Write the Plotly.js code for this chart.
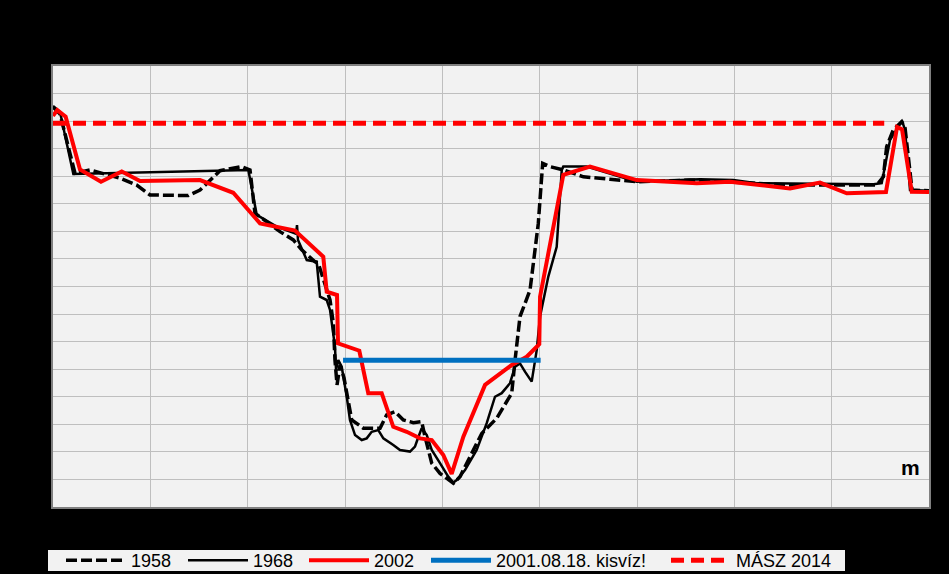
<!DOCTYPE html>
<html>
<head>
<meta charset="utf-8">
<script src="https://cdn.plot.ly/plotly-3.0.1.min.js"></script>
<style>html,body{margin:0;padding:0;background:#000;}#chart{width:949px;height:574px;}</style>
</head>
<body>
<div id="chart"></div>
<script>
// Distance across the section (m) and relative bed elevation (m)
const x1958 = [0,7.2,22.6,38.0,68.8,86.0,99.7,139.0,151.0,171.6,193.9,202.4,207.5,233.2,246.9,255.5,269.2,272.6,284.6,288.0,289.7,291.8,294.9,299.0,306.9,318.8,336.0,342.8,351.4,359.9,370.2,378.8,382.2,389.1,397.6,411.3,418.2,431.8,440.5,455.9,471.3,474.7,479.8,490.1,493.5,498.6,503.1,510.6,524.3,544.9,572.3,599.7,654.5,757.2,846.3,853.1,856.5,863.3,872.0,875.4,882.6,900];
const y1958 = [14.51,14.26,12.11,12.23,11.93,11.68,11.32,11.30,11.50,12.20,12.35,12.23,10.66,9.99,9.69,9.33,8.90,8.84,7.51,6.67,5.33,4.43,5.15,4.68,3.16,2.86,2.86,3.34,3.46,3.16,3.06,3.10,2.55,1.59,1.22,0.86,1.10,2.07,2.67,3.22,4.13,5.33,6.91,7.87,8.84,10.29,12.47,12.35,12.23,11.98,11.89,11.80,11.86,11.68,11.68,11.98,13.07,13.68,13.98,13.75,11.50,11.47];

const x1968 = [0,7.2,20.9,200.7,209.3,229.8,249.7,250.7,251.7,260.7,270.9,274.3,281.2,284.6,289.7,290.8,293.1,296.6,301.8,305.1,310.3,317.2,322.3,327.4,334.2,339.4,349.6,356.5,366.8,371.9,374.3,378.8,384.0,389.1,397.6,406.1,411.3,414.8,423.3,435.3,445.6,454.1,461.0,469.5,474.7,479.8,484.9,491.8,497.0,500.4,508.9,514.0,517.5,522.7,524.3,548.3,599.7,664.7,698.9,723.0,842.8,851.4,860.0,872.3,875.4,880.5,900];
const y1968 = [14.55,14.33,12.08,12.23,10.60,10.17,9.91,10.23,9.69,8.96,8.90,7.63,7.51,7.15,5.82,4.97,5.33,5.09,4.00,3.16,2.61,2.43,2.49,2.73,2.79,2.49,2.25,2.07,2.01,2.19,2.43,2.86,2.61,2.07,1.59,1.10,0.89,0.98,1.34,2.07,3.04,4.00,4.13,4.49,5.09,5.21,4.91,4.55,5.70,6.91,8.36,8.96,9.44,12.23,12.35,12.35,11.80,11.89,11.86,11.75,11.71,11.75,13.32,14.01,13.68,11.50,11.47];

const x2002 = [0,4.4,13.0,27.7,49.3,70.6,89.4,151.0,185.2,212.7,248.6,277.7,281.2,291.8,292.8,314.7,323.9,337.7,349.6,363.4,377.1,389.1,401.0,409.6,421.6,443.9,471.3,486.7,499.6,500.4,524.3,551.7,599.7,661.4,695.6,757.2,788.0,815.5,855.8,867.2,872.3,882.3,900];
const y2002 = [14.19,14.40,14.16,12.25,11.80,12.17,11.83,11.86,11.40,10.29,10.03,9.08,7.81,7.69,5.94,5.67,4.13,4.13,2.91,2.73,2.49,2.43,1.89,1.20,2.55,4.43,5.15,5.45,5.91,7.63,12.05,12.35,11.86,11.75,11.80,11.56,11.77,11.38,11.43,13.79,13.70,11.44,11.43];

const xLow = [298, 501];
const yLow = [5.32, 5.32];

const xMasz = [0, 854];
const yMasz = [13.92, 13.92];

const names = ["1958", "1968", "2002", "2001.08.18. kisvíz!", "MÁSZ 2014"];
const unitLabel = "m";

const legendIds = ["legend", "legend2", "legend3", "legend4", "legend5"];
const traces = [
  {x: x1958, y: y1958, name: names[0], legend: legendIds[0], mode: "lines", line: {color: "#000000", width: 3.5, dash: "11px,4px"}},
  {x: x1968, y: y1968, name: names[1], legend: legendIds[1], mode: "lines", line: {color: "#000000", width: 2.5}},
  {x: x2002, y: y2002, name: names[2], legend: legendIds[2], mode: "lines", line: {color: "#ff0000", width: 4}},
  {x: xLow, y: yLow, name: names[3], legend: legendIds[3], mode: "lines", line: {color: "#0070c0", width: 5}},
  {x: xMasz, y: yMasz, name: names[4], legend: legendIds[4], mode: "lines", line: {color: "#ff0000", width: 5, dash: "13px,7px"}}
];

// legend entry left edges in pixels (converted to paper fraction of plot width)
const plotL = 53, plotW = 876, plotB = 507, plotH = 441;
const legendPx = [61, 183, 304, 426, 666];
function legendCfg(px) {
  return {orientation: "h", x: (px - plotL) / plotW, xanchor: "left",
          y: (plotB - 560.5) / plotH, yanchor: "middle",
          bgcolor: "rgba(0,0,0,0)", borderwidth: 0, font: {size: 18, color: "#000000"}, itemwidth: 60};
}

const layout = {
  width: 949, height: 574,
  paper_bgcolor: "#000000",
  plot_bgcolor: "#f2f2f2",
  margin: {l: 53, r: 20, t: 66, b: 67, autoexpand: false},
  font: {family: "Liberation Sans, Arial, sans-serif", color: "#000000"},
  showlegend: true,
  xaxis: {range: [0, 900], dtick: 100, showgrid: true, gridcolor: "#bfbfbf", gridwidth: 1,
          zeroline: false, showticklabels: false, ticks: "", showline: true, linecolor: "#808080", linewidth: 2, mirror: true, fixedrange: true},
  yaxis: {range: [0, 16], dtick: 1, showgrid: true, gridcolor: "#bfbfbf", gridwidth: 1,
          zeroline: false, showticklabels: false, ticks: "", showline: true, linecolor: "#808080", linewidth: 2, mirror: true, fixedrange: true},
  legend: legendCfg(legendPx[0]),
  legend2: legendCfg(legendPx[1]),
  legend3: legendCfg(legendPx[2]),
  legend4: legendCfg(legendPx[3]),
  legend5: legendCfg(legendPx[4]),
  shapes: [{type: "rect", xref: "paper", yref: "paper",
            x0: (48 - plotL) / plotW, x1: (845 - plotL) / plotW,
            y0: (plotB - 550) / plotH, y1: (plotB - 571) / plotH,
            fillcolor: "#f2f2f2", line: {width: 0}, layer: "below"}],
  annotations: [{x: 893, y: 1.42, xref: "x", yref: "y", xanchor: "right", yanchor: "middle",
                 text: "<b>" + unitLabel + "</b>", showarrow: false, font: {size: 21, color: "#000000"}}]
};

Plotly.newPlot("chart", traces, layout, {displayModeBar: false, staticPlot: true});
</script>
</body>
</html>
